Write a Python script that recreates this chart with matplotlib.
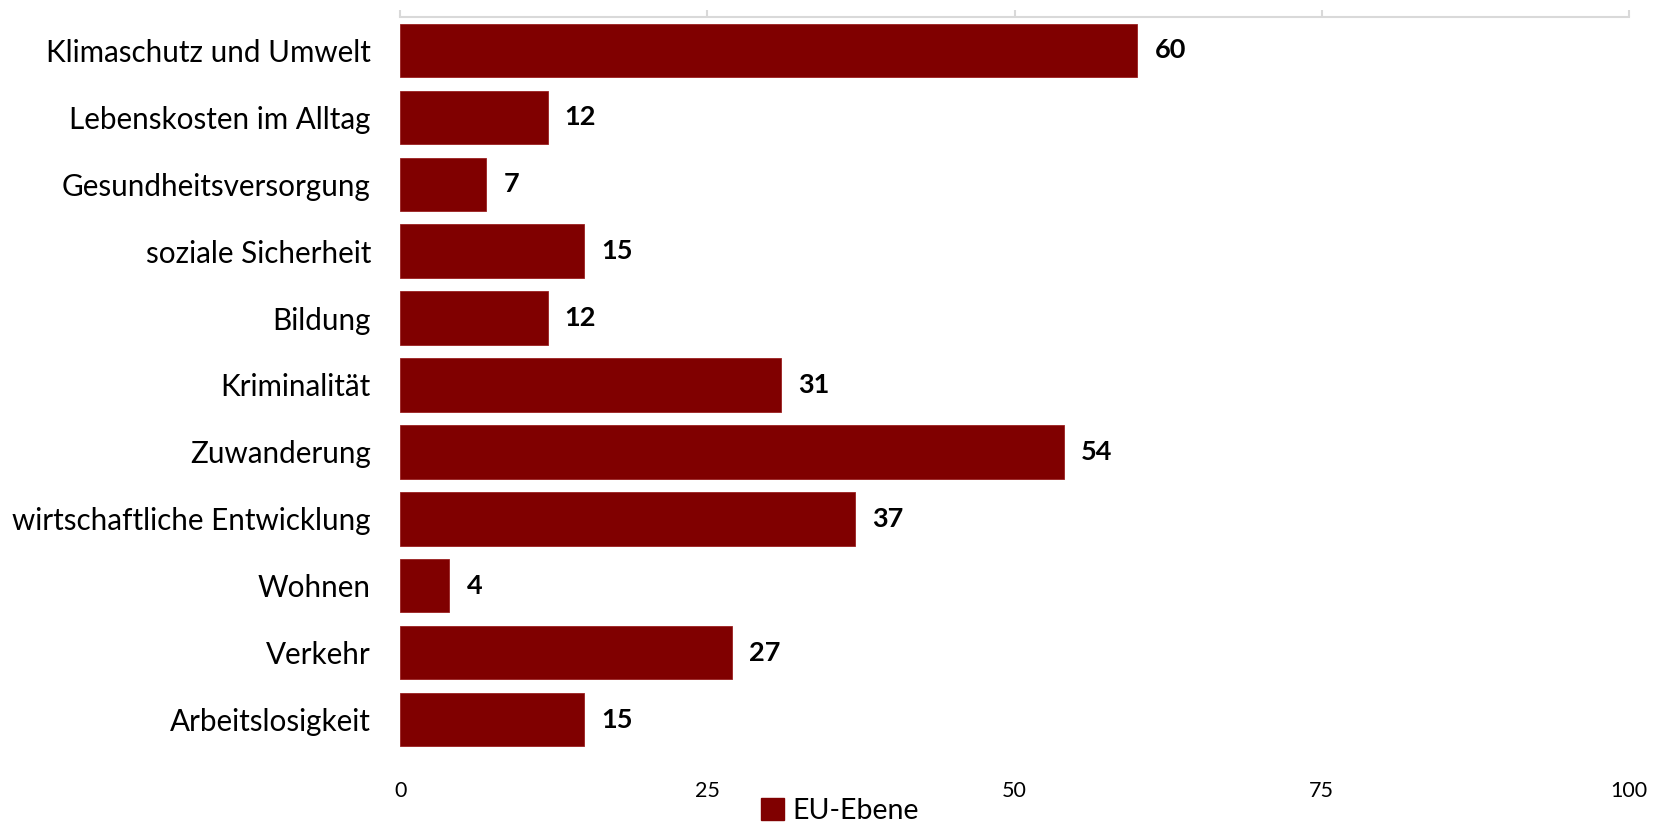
import matplotlib
matplotlib.use("Agg")
import matplotlib.pyplot as plt
from matplotlib.patches import Patch

plt.rcParams['font.family'] = ['Lato', 'DejaVu Sans']

# data, top to bottom as shown
categories = ["Klimaschutz und Umwelt", "Lebenskosten im Alltag", "Gesundheitsversorgung",
              "soziale Sicherheit", "Bildung", "Kriminalität", "Zuwanderung",
              "wirtschaftliche Entwicklung", "Wohnen", "Verkehr", "Arbeitslosigkeit"]
values = [60, 12, 7, 15, 12, 31, 54, 37, 4, 27, 15]
xticks = [0, 25, 50, 75, 100]
series_name = "EU-Ebene"

bar_color = "#800000"
axis_gray = "#d9d9d9"

fig = plt.figure(figsize=(16.67, 8.25), dpi=100)
ax = fig.add_axes([0.24, 0.0873, 0.7372, 0.8921])

pos = list(range(len(categories)))
ax.barh(pos, values, height=0.8, color=bar_color, edgecolor="#9a2020", linewidth=0.6)
ax.set_ylim(len(categories) - 0.5, -0.5)
ax.set_xlim(0, 100)

for p, v in zip(pos, values):
    ax.text(v + 1.4, p, str(v), va="center", ha="left", fontsize=19.5, fontweight="bold")

ax.set_yticks(pos)
ax.set_yticklabels(categories, fontsize=21.3)
ax.tick_params(axis="y", length=0, pad=21)

ax.set_xticks(xticks)
ax.set_xticklabels([str(t) for t in xticks], fontsize=15.5)
ax.tick_params(axis="x", top=True, bottom=False, labeltop=False, labelbottom=True,
               direction="out", length=5, width=1.5, color=axis_gray, pad=15)

for s in ["left", "right", "bottom"]:
    ax.spines[s].set_visible(False)
ax.spines["top"].set_color(axis_gray)
ax.spines["top"].set_linewidth(1.5)

fig.legend(handles=[Patch(color=bar_color, label=series_name)], loc="center",
           bbox_to_anchor=(0.504, 0.017), frameon=False, fontsize=20.5,
           handlelength=0.8, handleheight=0.8, handletextpad=0.3)

fig.savefig("out.png", dpi=100)
